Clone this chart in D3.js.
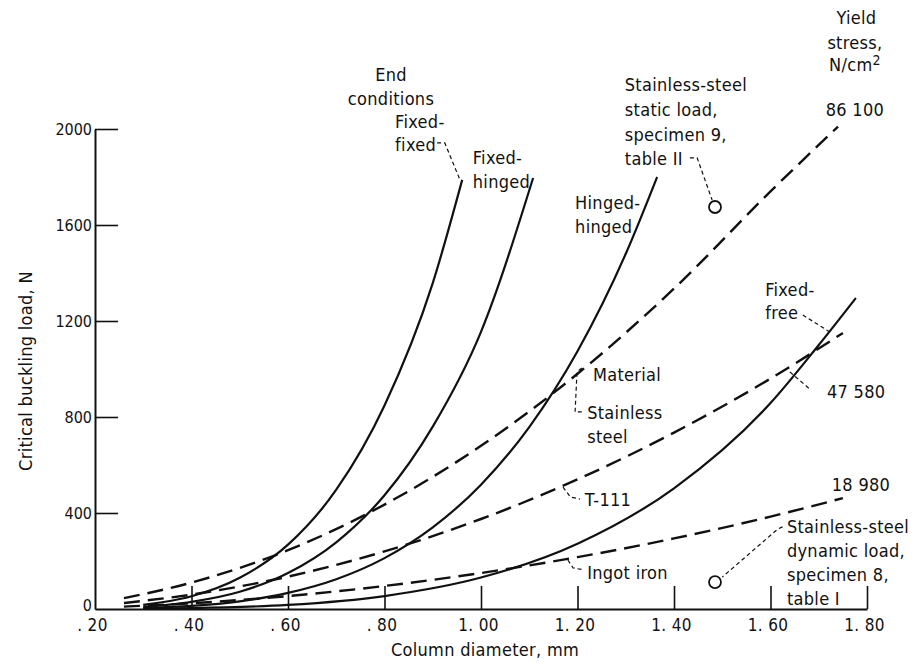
<!DOCTYPE html>
<html>
<head>
<meta charset="utf-8">
<script src="https://cdn.jsdelivr.net/npm/d3@7"></script>
<style>
  body { margin: 0; background: #fff; }
  svg text { font-family: "DejaVu Sans Condensed", "DejaVu Sans", sans-serif; font-size: 18px; fill: #111; letter-spacing: 0.3px; }
</style>
</head>
<body>
<div id="chart"></div>
<script>
// column diameter, mm  ->  critical buckling load, N
const fixedFixed = [[0.30, 17], [0.40, 53], [0.50, 130], [0.60, 268], [0.70, 497], [0.80, 848], [0.90, 1358], [0.961, 1788]];
const fixedHinged = [[0.30, 9], [0.40, 30], [0.50, 72], [0.60, 150], [0.70, 278], [0.80, 474], [0.90, 760], [1.00, 1155], [1.108, 1796]];
const hingedHinged = [[0.30, 4], [0.40, 13], [0.50, 32], [0.60, 67], [0.70, 124], [0.80, 212], [0.90, 340], [1.00, 518], [1.10, 758], [1.20, 1074], [1.30, 1480], [1.365, 1800]];
const fixedFree = [[0.30, 2], [0.40, 4], [0.60, 17], [0.80, 54], [1.00, 131], [1.20, 272], [1.40, 503], [1.60, 858], [1.70, 1100], [1.777, 1296]];

// yield-stress lines
const stainless = [[0.26, 45], [0.40, 110], [0.60, 245], [0.80, 435], [1.00, 680], [1.20, 980], [1.40, 1335], [1.60, 1740], [1.74, 2010]];
const t111 = [[0.26, 25], [0.40, 60], [0.60, 135], [0.80, 240], [1.00, 375], [1.20, 540], [1.40, 735], [1.60, 960], [1.75, 1150]];
const ingotIron = [[0.26, 10], [0.40, 24], [0.60, 54], [0.80, 96], [1.00, 150], [1.20, 216], [1.40, 294], [1.60, 385], [1.75, 462]];

// test specimens
const specimens = [[1.485, 1675], [1.485, 112]];

const xTicks = [0.2, 0.4, 0.6, 0.8, 1.0, 1.2, 1.4, 1.6, 1.8];
const xTickLabels = [". 20", ". 40", ". 60", ". 80", "1. 00", "1. 20", "1. 40", "1. 60", "1. 80"];
const yTicks = [0, 400, 800, 1200, 1600, 2000];

const width = 918, height = 665;

const svg = d3.select('#chart')
  .append('svg')
  .attr('width', width)
  .attr('height', height);

const x = d3.scaleLinear().domain([0.2, 1.8]).range([95, 867]);
const y = d3.scaleLinear().domain([0, 2000]).range([609, 129]);

const line = d3.line()
  .x(d => x(d[0]))
  .y(d => y(d[1]))
  .curve(d3.curveMonotoneX);

// axes, ticks pointing inward
const xAxis = d3.axisBottom(x)
  .tickValues(xTicks)
  .tickSizeInner(-23)
  .tickSizeOuter(0)
  .tickPadding(10)
  .tickFormat((d, i) => xTickLabels[i]);

const gx = svg.append('g')
  .attr('transform', `translate(0,${y(0)})`)
  .call(xAxis);

const yAxis = d3.axisLeft(y)
  .tickValues(yTicks)
  .tickSizeInner(-23)
  .tickSizeOuter(0)
  .tickPadding(3)
  .tickFormat(d3.format('d'));

const gy = svg.append('g')
  .attr('transform', `translate(${x(0.2)},0)`)
  .call(yAxis);

[gx, gy].forEach(g => {
  g.select('.domain').attr('stroke', '#111').attr('stroke-width', 2);
  g.selectAll('.tick line').attr('stroke', '#111').attr('stroke-width', 1.6);
  g.selectAll('.tick text').attr('fill', '#111').style('font-size', '17px');
});
gx.selectAll('.tick text').attr('dx', '-3');
gy.selectAll('.tick text').style('font-size', '16px').style('letter-spacing', '0');
gy.selectAll('.tick').filter(d => d === 0).select('text').attr('dy', '0.1em');
gx.selectAll('.tick').filter(d => d === 0.2).select('line').remove();
gy.selectAll('.tick').filter(d => d === 0).select('line').remove();

svg.append('text')
  .attr('x', 485).attr('y', 656)
  .attr('text-anchor', 'middle')
  .text('Column diameter, mm');

svg.append('text')
  .attr('transform', `translate(32,${y(1000) + 2}) rotate(-90)`)
  .attr('text-anchor', 'middle')
  .text('Critical buckling load, N');

// curves
const solid = [fixedFixed, fixedHinged, hingedHinged, fixedFree];
const dashed = [stainless, t111, ingotIron];

svg.selectAll('.euler')
  .data(solid)
  .enter()
  .append('path')
  .attr('class', 'euler')
  .attr('d', line)
  .attr('fill', 'none')
  .attr('stroke', '#111')
  .attr('stroke-width', 2.2);

svg.selectAll('.yield')
  .data(dashed)
  .enter()
  .append('path')
  .attr('class', 'yield')
  .attr('d', line)
  .attr('fill', 'none')
  .attr('stroke', '#111')
  .attr('stroke-width', 2.4)
  .attr('stroke-dasharray', '16,8');

svg.selectAll('.specimen')
  .data(specimens)
  .enter()
  .append('circle')
  .attr('class', 'specimen')
  .attr('cx', d => x(d[0]))
  .attr('cy', d => y(d[1]))
  .attr('r', 6)
  .attr('fill', 'none')
  .attr('stroke', '#111')
  .attr('stroke-width', 1.8);

// labels, placed in data units
const labels = [
  ['End', 0.8135, 2225, 'middle'],
  ['conditions', 0.8135, 2125, 'middle'],
  ['Fixed-', 0.822, 2029, 'start'],
  ['fixed', 0.822, 1933, 'start'],
  ['Fixed-', 0.983, 1879, 'start'],
  ['hinged', 0.983, 1779, 'start'],
  ['Hinged-', 1.195, 1692, 'start'],
  ['hinged', 1.195, 1592, 'start'],
  ['Stainless-steel', 1.298, 2183, 'start'],
  ['static load,', 1.298, 2079, 'start'],
  ['specimen 9,', 1.298, 1975, 'start'],
  ['table II', 1.298, 1875, 'start'],
  ['Yield', 1.778, 2462, 'middle'],
  ['stress,', 1.775, 2358, 'middle'],
  ['86 100', 1.775, 2079, 'middle'],
  ['Fixed-', 1.589, 1329, 'start'],
  ['free', 1.589, 1233, 'start'],
  ['Material', 1.232, 975, 'start'],
  ['Stainless', 1.220, 817, 'start'],
  ['steel', 1.220, 717, 'start'],
  ['47 580', 1.717, 904, 'start'],
  ['T-111', 1.215, 454, 'start'],
  ['18 980', 1.727, 517, 'start'],
  ['Stainless-steel', 1.634, 342, 'start'],
  ['dynamic load,', 1.634, 242, 'start'],
  ['specimen 8,', 1.634, 142, 'start'],
  ['table I', 1.634, 42, 'start'],
  ['Ingot iron', 1.220, 150, 'start']
];

svg.selectAll('.label')
  .data(labels)
  .enter()
  .append('text')
  .attr('class', 'label')
  .attr('x', d => x(d[1]))
  .attr('y', d => y(d[2]))
  .attr('dy', '0.35em')
  .attr('text-anchor', d => d[3])
  .text(d => d[0]);

const unit = svg.append('text')
  .attr('x', x(1.775))
  .attr('y', y(2267))
  .attr('dy', '0.35em')
  .attr('text-anchor', 'middle');
unit.append('tspan').text('N/cm');
unit.append('tspan').attr('dy', '-0.45em').style('font-size', '14px').text('2');

// leader lines
const leaders = [
  [[0.909, 1942], [0.925, 1942], [0.956, 1790]],
  [[1.433, 1880], [1.448, 1880], [1.479, 1704]],
  [[1.667, 1225], [1.723, 1154]],
  [[1.209, 1004], [1.199, 988], [1.195, 821], [1.209, 821]],
  [[1.640, 988], [1.684, 912]],
  [[1.170, 508], [1.185, 467], [1.205, 458]],
  [[1.180, 204], [1.191, 171], [1.214, 163]],
  [[1.625, 342], [1.615, 333], [1.500, 133]]
];

svg.selectAll('.leader')
  .data(leaders)
  .enter()
  .append('path')
  .attr('class', 'leader')
  .attr('d', d3.line().x(d => x(d[0])).y(d => y(d[1])))
  .attr('fill', 'none')
  .attr('stroke', '#111')
  .attr('stroke-width', 1.2)
  .attr('stroke-dasharray', '4,3');
</script>
</body>
</html>
